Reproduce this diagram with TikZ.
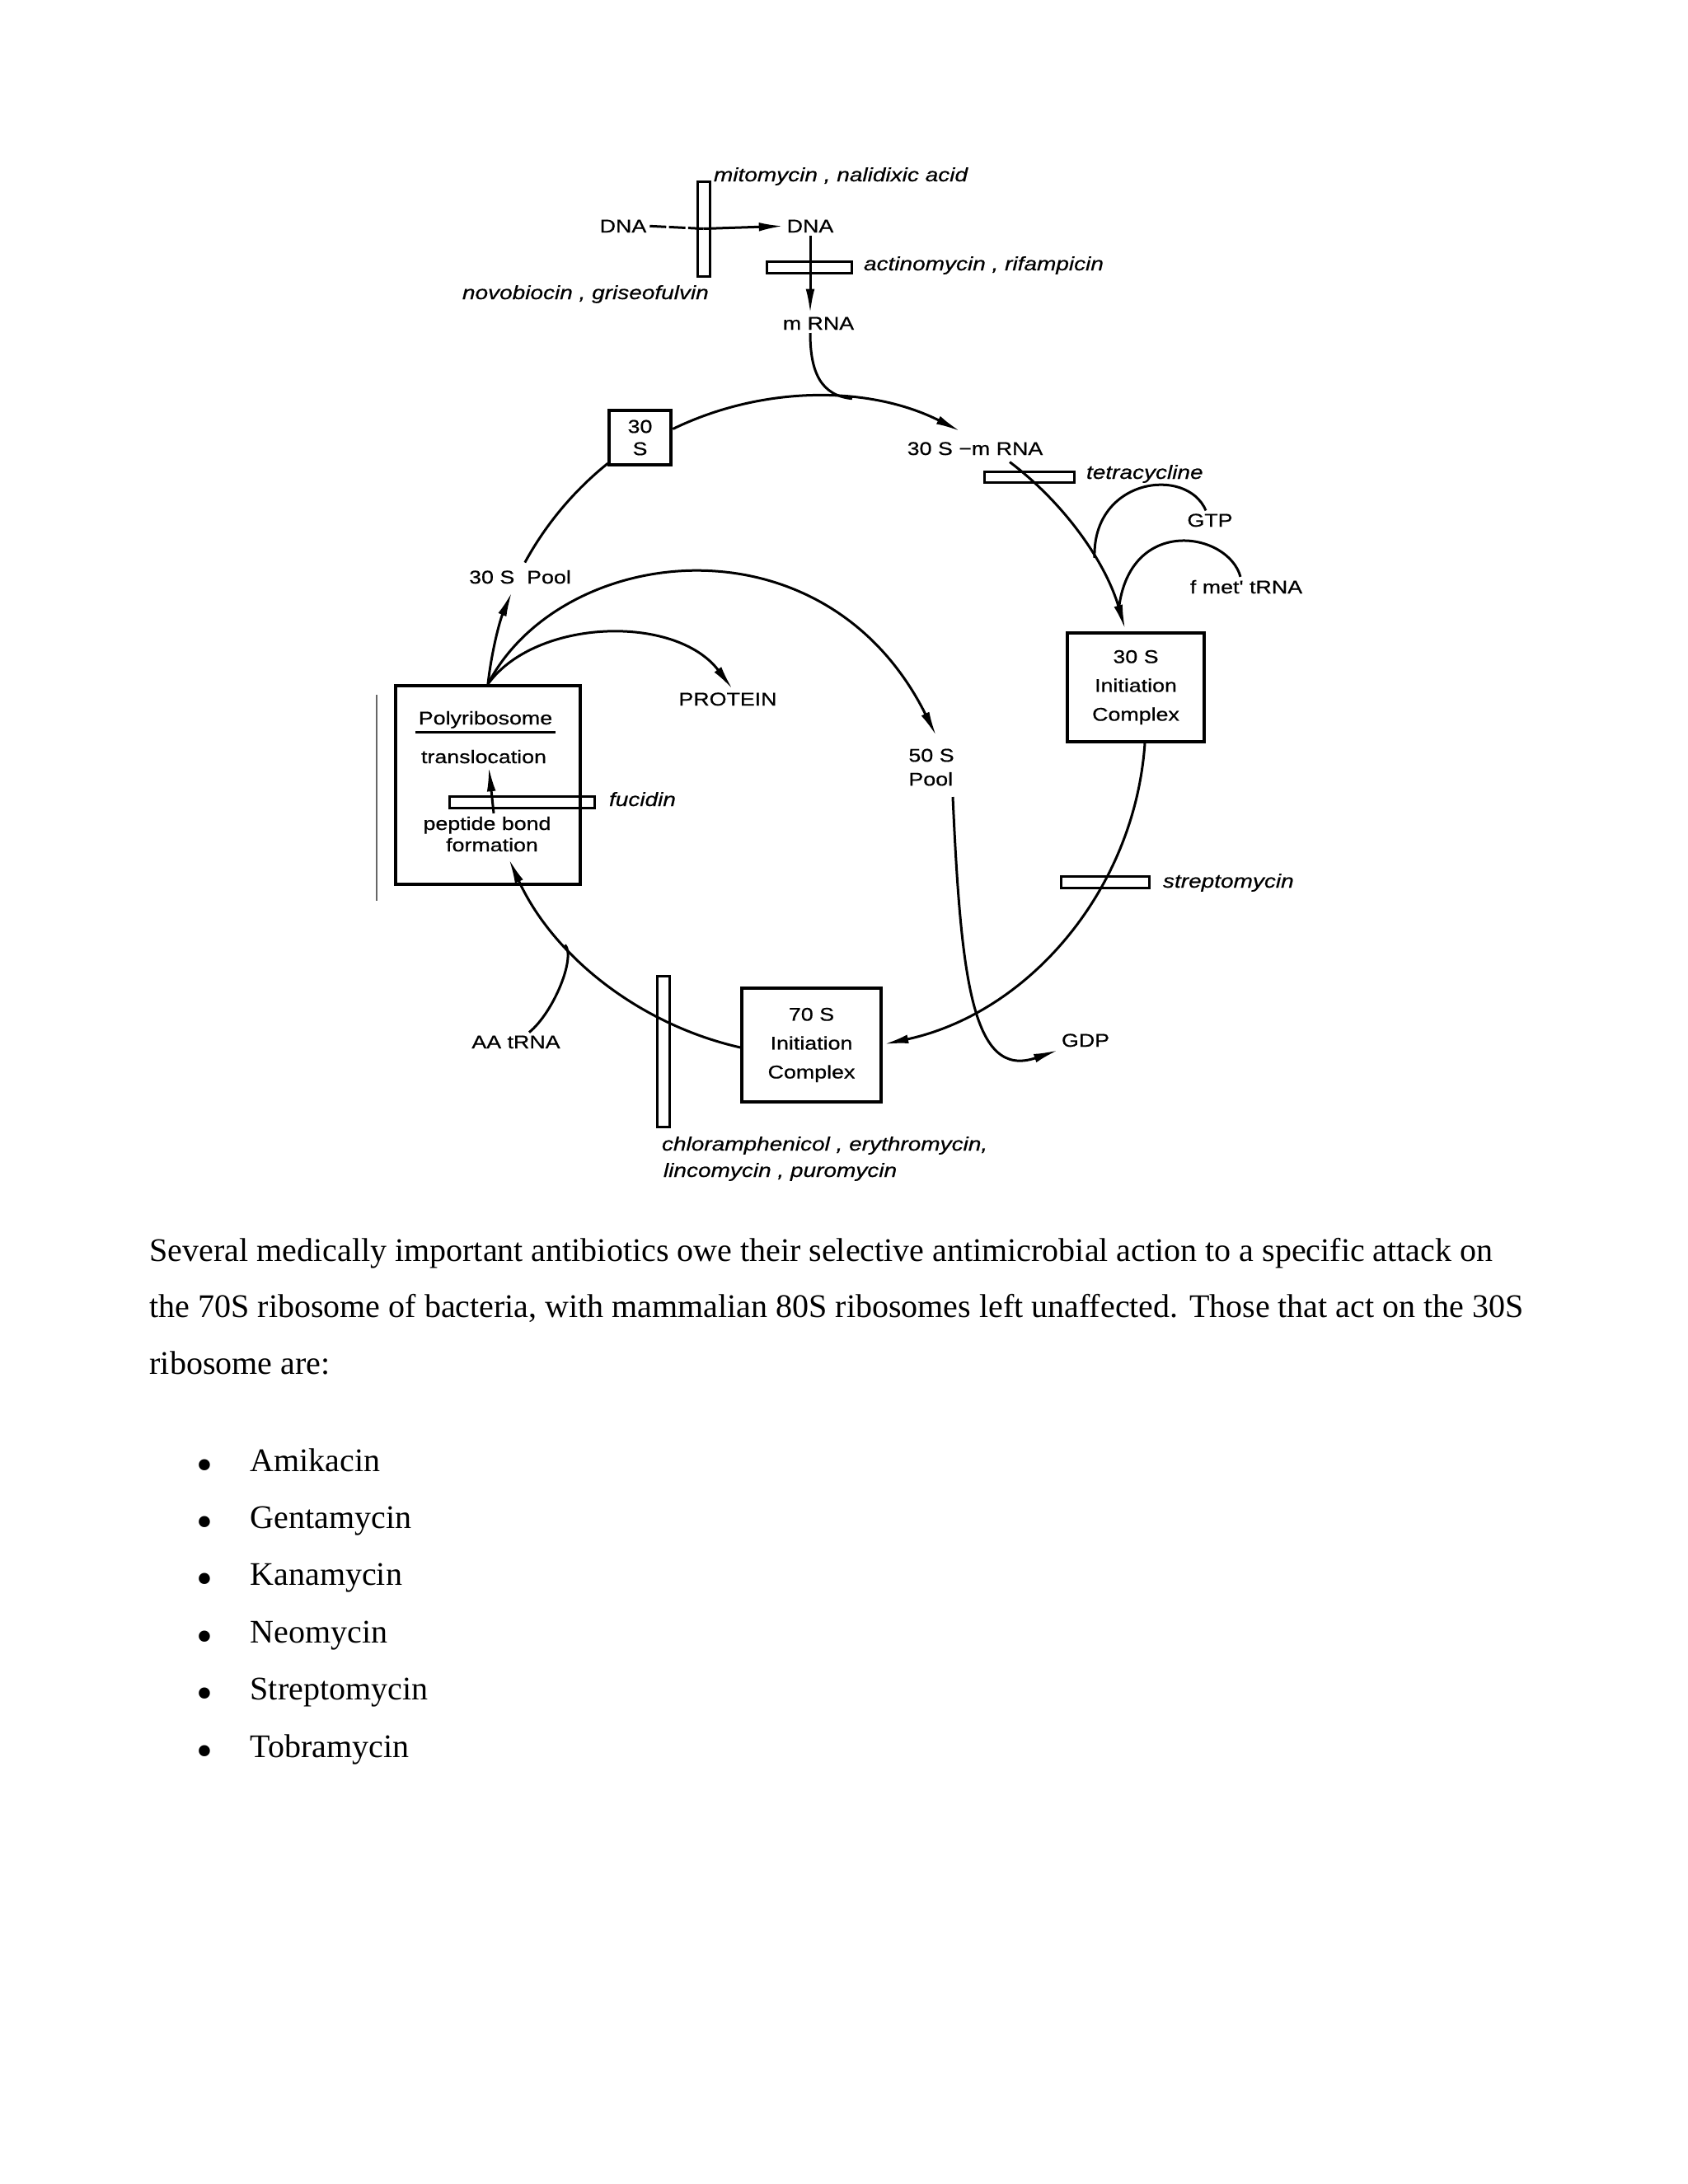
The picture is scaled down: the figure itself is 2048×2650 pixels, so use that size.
\documentclass[tikz,border=0pt]{standalone}
\usepackage{fontspec}
\setmainfont{Liberation Serif}
\newfontfamily\figfont[FakeStretch=1.2,FakeBold=0.6]{Liberation Sans}
\usetikzlibrary{arrows.meta,calc}
\newdimen\pxu
\pxu=0.010539cm
\begin{document}
\begin{tikzpicture}[x=0.010539cm, y=-0.010539cm,
  lbl/.style={inner sep=1pt, font=\figfont\fontsize{6.7}{8}\selectfont},
  drug/.style={inner sep=1pt, font=\figfont\itshape\fontsize{7}{8}\selectfont},
  boxnode/.style={draw, line width=1.2pt, inner sep=0pt, align=center, font=\figfont\fontsize{6.7}{10.5}\selectfont},
  barnode/.style={draw, line width=0.9pt, inner sep=0pt, outer sep=0pt},
  conn/.style={line width=0.9pt},
  arr/.style={conn, -{Latex[length=9pt,width=3.2pt]}},
  body/.style={inner sep=0pt, anchor=base west, font=\fontsize{12}{14}\selectfont}]
\fill[white] (0,0) rectangle (2048,2650);
\useasboundingbox (0,0) rectangle (2048,2650);

% ---------- DNA / mRNA ----------
\node[lbl, anchor=base] (dna1) at (756,282) {DNA};
\node[lbl, anchor=base] (dna2) at (983,282) {DNA};
\node[drug, anchor=base west] (mito) at (862,220) {mitomycin , nalidixic acid};
\node[drug, anchor=base west] (novo) at (557,363) {novobiocin , griseofulvin};
\node[barnode, minimum width=15\pxu, minimum height=115\pxu] (barmito) at (853.5,277.5) {};
\node[lbl, anchor=base] (mrna) at (993,400) {m RNA};
\node[barnode, minimum width=103\pxu, minimum height=14\pxu] (baract) at (981.5,324) {};
\node[drug, anchor=base west] (act) at (1044,328) {actinomycin , rifampicin};
\draw[conn, dash pattern=on 6pt off 1pt] (dna1.east) -- (barmito.center);
\draw[arr] (barmito.center) -- (dna2.west);
\draw[arr] (dna2.south) -- (dna2.south |- mrna.north);

% ---------- cycle nodes ----------
\node[boxnode, minimum width=75\pxu, minimum height=66\pxu, font=\figfont\fontsize{6.7}{8.1}\selectfont] (b30) at (776.5,531) {30\\S};
\node[lbl, anchor=base] (pool30) at (631,708) {30 S \ Pool};
\node[lbl, anchor=base] (smrna) at (1183,552) {30 S −m RNA};
\node[barnode, minimum width=109\pxu, minimum height=13\pxu] (bartet) at (1248.5,578.5) {};
\node[drug, anchor=base west] (tet) at (1314,581) {tetracycline};
\node[lbl, anchor=base] (gtp) at (1468,639) {GTP};
\node[lbl, anchor=base] (fmet) at (1512,720) {f met' tRNA};
\node[boxnode, minimum width=166\pxu, minimum height=132\pxu] (ic30) at (1378,834) {30 S\\Initiation\\Complex};
\node[lbl, anchor=base] (protein) at (883,856) {PROTEIN};
\node[lbl, align=left, font=\figfont\fontsize{6.7}{8.7}\selectfont] (p50) at (1130,931) {50 S\\Pool};
\node[barnode, minimum width=107\pxu, minimum height=14\pxu] (barstr) at (1340.5,1070) {};
\node[drug, anchor=base west] (strep) at (1407,1077) {streptomycin};
\node[boxnode, minimum width=169\pxu, minimum height=138\pxu] (r70) at (984.5,1268) {70 S\\Initiation\\Complex};
\node[lbl, anchor=base west] (gdp) at (1284,1270) {GDP};
\node[lbl, anchor=base] (aa) at (626,1272) {AA tRNA};
\node[barnode, minimum width=15\pxu, minimum height=183\pxu] (barchl) at (804.5,1275.5) {};
\node[drug, anchor=base west] (chl1) at (799,1396) {chloramphenicol , erythromycin,};
\node[drug, anchor=base west] (chl2) at (801,1428) {lincomycin , puromycin};

% ---------- polyribosome box ----------
\node[draw, line width=1.2pt, minimum width=224\pxu, minimum height=241\pxu, inner sep=0pt] (poly) at (592,952.5) {};
\node[lbl, anchor=base] (ptxt) at (589,879) {Polyribosome};
\draw[line width=0.9pt] ([yshift=-9\pxu]ptxt.base west) -- ([yshift=-9\pxu]ptxt.base east);
\node[lbl, anchor=base] (trans) at (587,926) {translocation};
\node[barnode, minimum width=176\pxu, minimum height=14\pxu] (barfuc) at (633,973) {};
\node[drug, anchor=base west] (fuc) at (735,978) {fucidin};
\node[lbl, anchor=base] (pep) at (591,1007) {peptide bond};
\node[lbl, anchor=base] (form) at (597,1033) {formation};
\draw[arr] ($(pep.north)+(8,0)$) -- ($(trans.south)+(6,0)$);
\draw[line width=0.6pt, black!60] (457,843) -- (457,1093);

% ---------- the big cycle ----------
\coordinate (C) at (988,874);
\coordinate (sA) at ($(C)+(-115.9:393)$);
\coordinate (jA) at ($(C)+(-83.3:393)$);
\coordinate (sB) at ($(C)+(-52.9:393)$);
\coordinate (jG) at ($(C)+(-30.1:393)$);
\coordinate (jF) at ($(C)+(-20:393)$);
\coordinate (sC) at ($(C)+(3.7:402)$);
\coordinate (sD) at ($(C)+(102.5:407)$);
\coordinate (jAA) at ($(C)+(138:407)$);
\coordinate (sF) at ($(C)+(208.6:400)$);
\coordinate (p50in) at (1136,893);
\coordinate (p50out) at (1156,967);

\draw[arr] (sA) arc[start angle=-115.9, end angle=-63.2, radius=393];
\draw[conn] (dna2.south |- mrna.south) .. controls (983,450) and (995,480) .. (jA);
\draw[arr] (sB) arc[start angle=-52.9, end angle=-16.3, radius=393];
\draw[conn] ($(gtp.north)+(-5,0)$) .. controls (1440,565) and (1325,580) .. (jG);
\draw[conn] ($(fmet.north)+(-7,0)$) .. controls (1490,645) and (1370,625) .. (jF);
\draw[arr] (sC) arc[start angle=3.7, end angle=77.9, radius=402];
\draw[arr] (sD) arc[start angle=102.5, end angle=155.6, radius=407];
\draw[conn] ($(aa.north)+(16,0)$) .. controls (672,1228) and (699,1161) .. (jAA);
\draw[arr] (poly.north) arc[start angle=186.3, end angle=202.9, radius=400];
\draw[conn] (sF) arc[start angle=208.6, end angle=231.2, radius=400];
\draw[arr] (poly.north) .. controls (650,750) and (820,745) .. ($(protein.north)+(6,0)$);
\draw[arr] (poly.north) .. controls (680,660) and (1000,620) .. (p50in);
\draw[arr] (p50out) .. controls (1166,1190) and (1180,1310) .. (gdp.south west);

% ---------- body text ----------
\node[body] (par1) at (181,1530) {Several medically important antibiotics owe their selective antimicrobial action to a specific attack on};
\node[body] (par2) at (181,1598) {the 70S ribosome of bacteria, with mammalian 80S ribosomes left unaffected. Those that act on the 30S};
\node[body] (par3) at (181,1667) {ribosome are:};
\foreach \i/\w in {0/Amikacin,1/Gentamycin,2/Kanamycin,3/Neomycin,4/Streptomycin,5/Tobramycin} {
  \node[body] (item\i) at (303,{1785+69.4*\i}) {\w};
  \node[body, anchor=base, font=\fontsize{17}{20}\selectfont] (bul\i) at (248,{1796+69.4*\i}) {•};
}
\end{tikzpicture}
\end{document}
